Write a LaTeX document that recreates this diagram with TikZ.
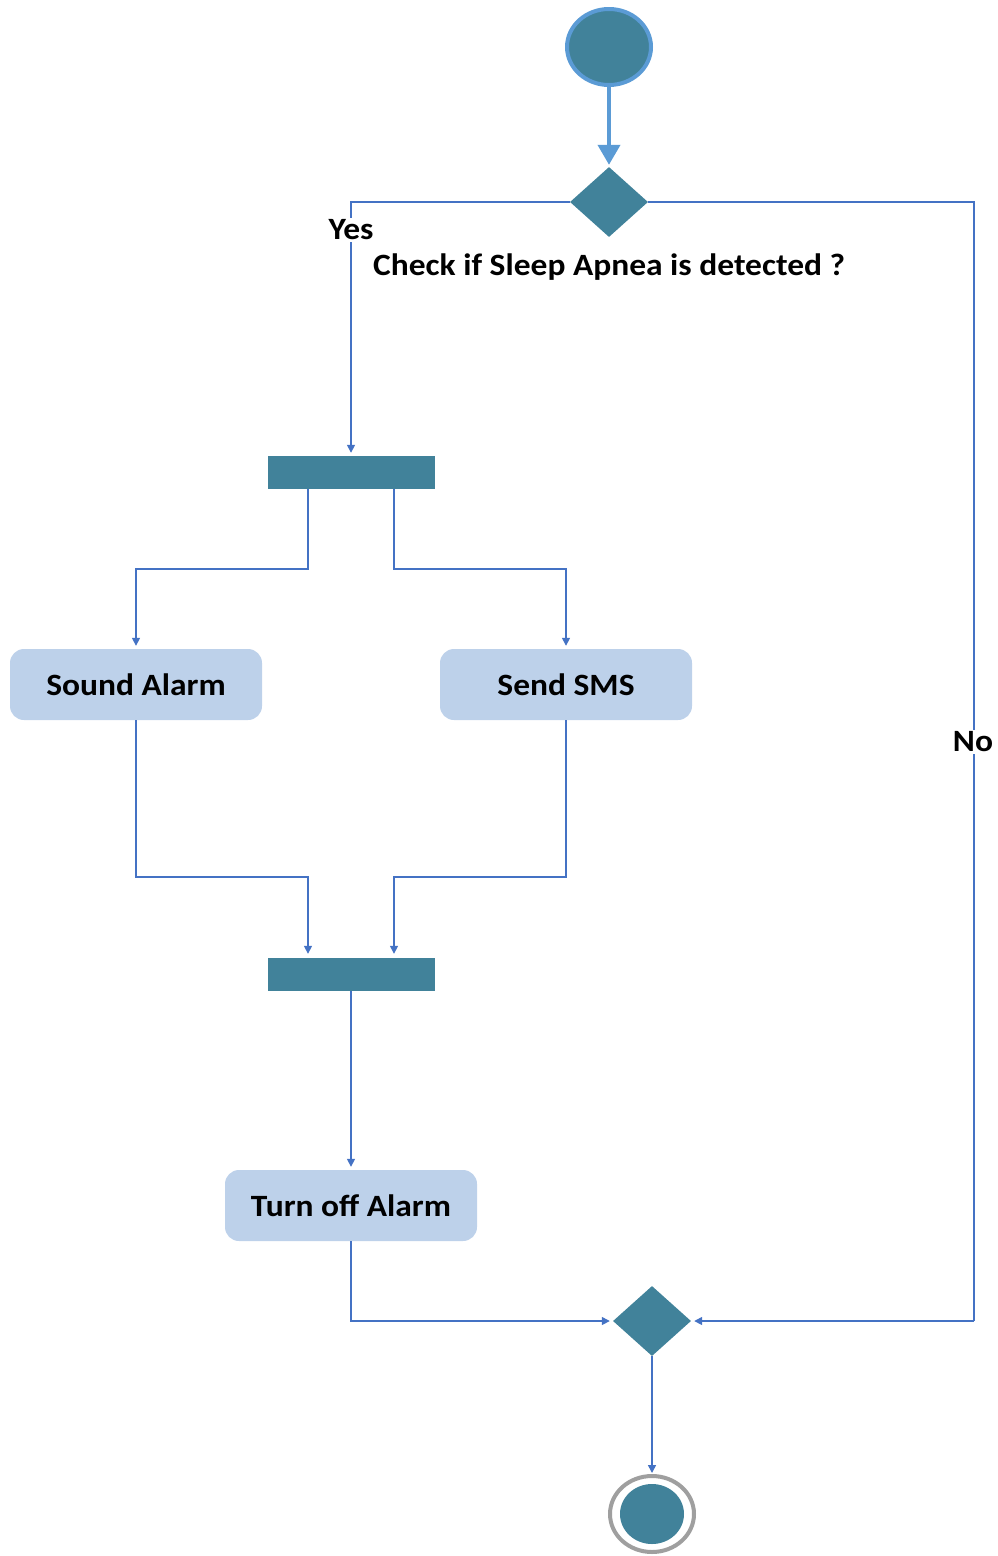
\documentclass[tikz,border=0pt]{standalone}
\usepackage{fontspec}
\setmainfont{Carlito}[FakeStretch=1.08]
\usetikzlibrary{shapes.geometric,arrows.meta}
\definecolor{teal}{RGB}{65,130,154}
\definecolor{startring}{RGB}{91,155,213}
\definecolor{flowline}{RGB}{68,114,196}
\definecolor{actfill}{RGB}{189,209,234}
\tikzset{
  flow/.style={draw=flowline, line width=1.5pt, -{Triangle[width=8pt,length=8pt]}},
  flowplain/.style={draw=flowline, line width=1.5pt},
  decision/.style={diamond, fill=teal, minimum width=78pt, minimum height=70pt, inner sep=0pt},
  bar/.style={rectangle, fill=teal, minimum width=167pt, minimum height=33pt, inner sep=0pt},
  activity/.style={rectangle, rounded corners=14pt, fill=actfill, minimum width=252pt, minimum height=71pt, font=\fontsize{31}{36}\selectfont\bfseries},
  lbl/.style={font=\fontsize{31}{36}\selectfont\bfseries, inner sep=2pt}
}
\begin{document}
\begin{tikzpicture}[x=1pt,y=-1pt]
  \useasboundingbox (0,0) rectangle (998,1556);
  % start node
  \node[ellipse, fill=teal, draw=startring, line width=4pt, minimum width=84pt, minimum height=76pt] (start) at (609,47) {};
  % decisions
  \node[decision] (d1) at (609,202) {};
  \node[decision] (d2) at (652,1321) {};
  % fork / join bars
  \node[bar] (fork) at (351,472.5) {};
  \node[bar] (join) at (351,974.5) {};
  % activities
  \node[activity] (sound) at (136,684.5) {Sound Alarm};
  \node[activity] (sms) at (566,684.5) {Send SMS};
  \node[activity] (off) at (351,1205.5) {Turn off Alarm};
  % final node
  \node[ellipse, fill=white, draw=gray!75, line width=4pt, minimum width=84pt, minimum height=76pt] (endring) at (652,1514) {};
  \node[ellipse, fill=teal, minimum width=64pt, minimum height=60pt] (end) at (652,1514) {};

  % start -> decision
  \draw[draw=startring, line width=4pt, -{Triangle[width=22pt,length=20pt]}, shorten >=2pt] (start.south) -- (d1.north);

  % Yes branch
  \draw[flow, shorten >=3pt] (d1.west) -| (fork.north);
  % No branch
  \draw[flowplain] (d1.east) -- (974,202) -- (974,1321);
  \draw[flow, shorten >=3pt] (974,1321) -- (d2.east);

  % fork outputs
  \draw[flow, shorten >=3pt] ([xshift=-43pt]fork.south) -- ++(0,80) -| (sound.north);
  \draw[flow, shorten >=3pt] ([xshift=43pt]fork.south) -- ++(0,80) -| (sms.north);

  % join inputs
  \draw[flow, shorten >=4pt] (sound.south) -- ++(0,157) -| ([xshift=-43pt]join.north);
  \draw[flow, shorten >=4pt] (sms.south) -- ++(0,157) -| ([xshift=43pt]join.north);

  % join -> turn off
  \draw[flow, shorten >=3pt] (join.south) -- (off.north);
  % turn off -> merge
  \draw[flow, shorten >=3pt] (off.south) |- (d2.west);
  % merge -> final
  \draw[flow, shorten >=1pt] (d2.south) -- (endring.north);

  % labels
  \node[lbl, fill=white] (yes) at (351,230) {Yes};
  \node[lbl, anchor=west] (check) at (371,267) {Check if Sleep Apnea is detected ?};
  \node[lbl, fill=white] (no) at (973,742) {No};
\end{tikzpicture}
\end{document}
